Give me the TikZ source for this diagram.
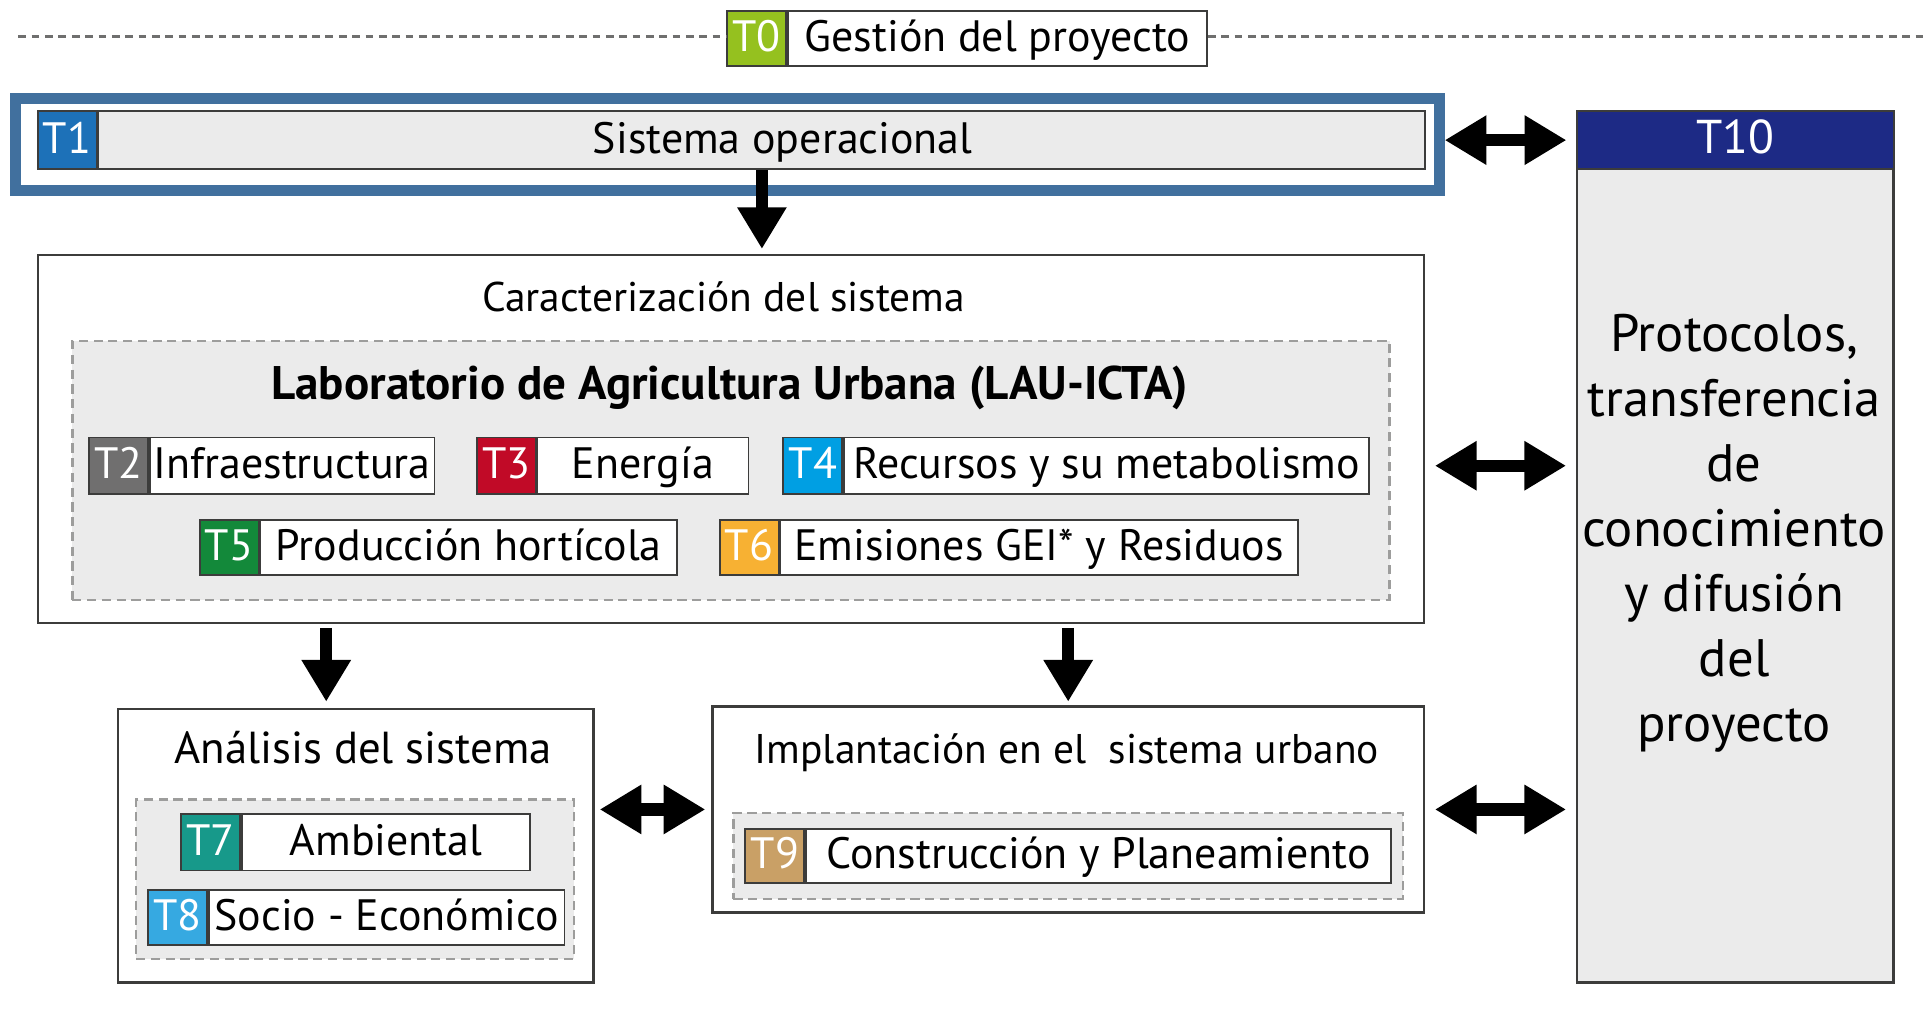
\documentclass[tikz,border=0pt]{standalone}
\usepackage{fontspec}
\setmainfont{PT Sans}
\usetikzlibrary{positioning,arrows.meta}

\newlength\upx
\setlength\upx{0.012264cm}

\definecolor{boxline}{HTML}{3C3C3B}
\definecolor{panel}{HTML}{EBEBEB}
\definecolor{dashgray}{HTML}{9D9D9C}
\definecolor{sepgray}{HTML}{6F6F6E}
\definecolor{frameblue}{HTML}{41709E}
\definecolor{tzero}{HTML}{95C11F}
\definecolor{tone}{HTML}{1D71B8}
\definecolor{ttwo}{HTML}{706F6F}
\definecolor{tthree}{HTML}{C10A27}
\definecolor{tfour}{HTML}{009FE3}
\definecolor{tfive}{HTML}{13893A}
\definecolor{tsix}{HTML}{F7B133}
\definecolor{tseven}{HTML}{17998A}
\definecolor{teight}{HTML}{36A9E1}
\definecolor{tnine}{HTML}{C9A066}
\definecolor{tten}{HTML}{1D2A85}

\newcommand\lblfont{\fontsize{12.5}{15}\selectfont}
\newcommand\ttlfont{\fontsize{11.8}{14}\selectfont}
\newcommand\protfont{\fontsize{15}{18.5}\selectfont}

\tikzset{
  tag/.style={draw=boxline, line width=1.5\upx, text=white, minimum width=48\upx,
    minimum height=46\upx, inner sep=0pt, font=\lblfont, anchor=north west,
    text height=0.85em, text depth=0.1em},
  lbl/.style={draw=boxline, line width=1.5\upx, fill=white, minimum height=46\upx,
    inner sep=0pt, font=\lblfont, text height=0.85em, text depth=0.1em},
  bigbox/.style={draw=boxline, line width=2\upx, fill=white, anchor=north west, inner sep=0pt},
  dashbox/.style={draw=dashgray, fill=panel, line width=2\upx, dash pattern=on 2.6pt off 1.6pt,
    anchor=north west, inner sep=0pt},
  sepline/.style={draw=sepgray, line width=0.8pt, dash pattern=on 2.2pt off 1.6pt},
  onearrow/.style={line width=3.5pt, -{Triangle[length=0.417cm, width=0.466cm]}},
  twoarrow/.style={line width=3.5pt, {Triangle[length=0.417cm, width=0.466cm]}-{Triangle[length=0.417cm, width=0.466cm]}}
}

\begin{document}
\begin{tikzpicture}[x=\upx, y=-\upx]
\useasboundingbox (0,0) rectangle (1568,834);

% T0 gestion
\node[tag, fill=tzero, minimum height=45\upx] (t0) at (592,8) {T0};
\node[lbl, right=0pt of t0, minimum width=342\upx, minimum height=45\upx] (t0l) {Gestión del proyecto};
\coordinate (sepl) at (15,30);
\coordinate (sepr) at (1568,30);
\draw[sepline] (sepl) -- (sepl -| t0.west);
\draw[sepline] (t0l.east |- sepr) -- (sepr);

% T1 sistema operacional
\node[draw=frameblue, line width=9\upx, minimum width=1161\upx, minimum height=75\upx] (t1frame) at (593,118) {};
\node[tag, fill=tone, minimum height=47\upx] (t1) at (30,90) {T1};
\node[lbl, fill=panel, right=0pt of t1, minimum width=1082\upx, minimum height=47\upx] (t1l) {};
\node[lbl, draw=none, fill=none] (t1txt) at ([xshift=17\upx]t1l.center) {Sistema operacional};

% T10
\node[draw=boxline, line width=2\upx, fill=panel, minimum width=258\upx, minimum height=710\upx,
  anchor=north west, inner sep=0pt] (t10) at (1285,90) {};
\node[draw=boxline, line width=1.5\upx, fill=tten, text=white, font=\fontsize{13.5}{16}\selectfont,
  minimum width=258\upx, minimum height=47\upx, anchor=north, inner sep=0pt,
  text height=0.85em, text depth=0.1em] (t10h) at (t10.north) {T10};
\node[font=\protfont, align=center] (t10txt) at (1414,435)
  {Protocolos,\\transferencia\\de\\conocimiento\\y difusión\\del\\proyecto};

% caracterizacion
\node[bigbox, minimum width=1130\upx, minimum height=300\upx] (carac) at (30,207) {};
\node[font=\ttlfont] (caract) at (590,242) {Caracterización del sistema};
\node[dashbox, minimum width=1074\upx, minimum height=211\upx] (lau) at (58,277) {};
\node[font=\fontsize{13.4}{16}\selectfont\bfseries] (laut) at (595,316) {Laboratorio de Agricultura Urbana (LAU-ICTA)};

\node[tag, fill=ttwo] (t2) at (72,356) {T2};
\node[lbl, right=0pt of t2, minimum width=232\upx] (t2l) {Infraestructura};
\node[tag, fill=tthree] (t3) at (388,356) {T3};
\node[lbl, right=0pt of t3, minimum width=172\upx] (t3l) {Energía};
\node[tag, fill=tfour] (t4) at (638,356) {T4};
\node[lbl, right=0pt of t4, minimum width=428\upx] (t4l) {Recursos y su metabolismo};
\node[tag, fill=tfive, minimum height=45\upx] (t5) at (162,423) {T5};
\node[lbl, right=0pt of t5, minimum width=340\upx, minimum height=45\upx] (t5l) {Producción hortícola};
\node[tag, fill=tsix, minimum height=45\upx] (t6) at (586,423) {T6};
\node[lbl, right=0pt of t6, minimum width=422\upx, minimum height=45\upx] (t6l) {Emisiones GEI* y Residuos};

% analisis
\node[bigbox, minimum width=388\upx, minimum height=223\upx] (anal) at (95,577) {};
\node[font=\fontsize{12.75}{15}\selectfont] (analt) at (296,610) {Análisis del sistema};
\node[dashbox, minimum width=357\upx, minimum height=130\upx] (analbox) at (110,651) {};
\node[tag, fill=tseven] (t7) at (147,663) {T7};
\node[lbl, right=0pt of t7, minimum width=235\upx] (t7l) {Ambiental};
\node[tag, fill=teight, minimum height=45\upx] (t8) at (120,725) {T8};
\node[lbl, right=0pt of t8, minimum width=290\upx, minimum height=45\upx] (t8l) {Socio - Económico};

% implantacion
\node[bigbox, minimum width=580\upx, minimum height=168\upx] (impl) at (580,575) {};
\node[font=\ttlfont] (implt) at (870,614) {Implantación en el\ \ sistema urbano};
\node[dashbox, minimum width=546\upx, minimum height=70\upx] (implbox) at (597,662) {};
\node[tag, fill=tnine, minimum height=44\upx] (t9) at (607,675) {T9};
\node[lbl, right=0pt of t9, minimum width=477\upx, minimum height=44\upx] (t9l) {Construcción y Planeamiento};

% flechas
\coordinate (analin) at ([xshift=-24\upx]anal.north);
\draw[onearrow, shorten >=1.4pt] (t1l.south) -- (t1l.south |- carac.north);
\draw[onearrow, shorten <=1pt, shorten >=1.7pt] (analin |- carac.south) -- (analin);
\draw[onearrow, shorten <=1pt, shorten >=1pt] (impl.north |- carac.south) -- (impl.north);
\draw[twoarrow, shorten >=2.8pt] (t10h.west -| t1frame.east) -- (t10h.west);
\draw[twoarrow, shorten <=2.8pt, shorten >=2.8pt] (t4l.east -| carac.east) -- (t4l.east -| t10.west);
\draw[twoarrow, shorten <=1.4pt, shorten >=1.7pt] (impl.west -| anal.east) -- (impl.west);
\draw[twoarrow, shorten <=2.8pt, shorten >=2.8pt] (impl.east) -- (impl.east -| t10.west);
\end{tikzpicture}
\end{document}
